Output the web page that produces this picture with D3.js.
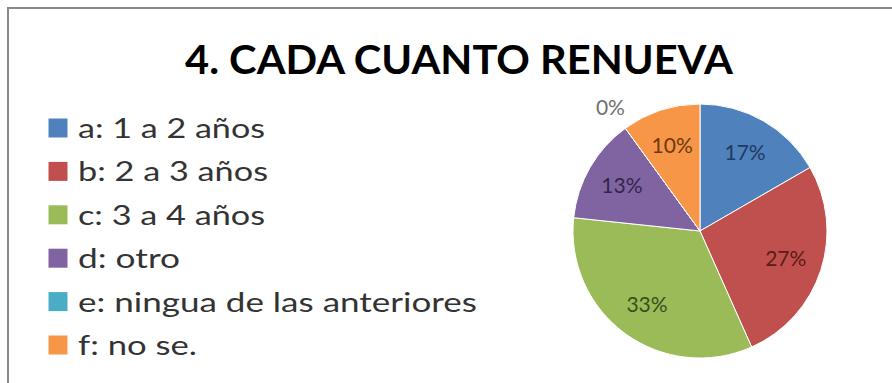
<!DOCTYPE html>
<html>
<head>
<meta charset="utf-8">
<script src="https://cdn.jsdelivr.net/npm/d3@7"></script>
<style>
  html, body { margin: 0; padding: 0; background: #fff; }
  svg { display: block; }
</style>
</head>
<body>
<svg id="chart" width="892" height="383"></svg>
<script>
// Survey answers: "4. CADA CUANTO RENUEVA"
const title = "4. CADA CUANTO RENUEVA";
const categories = ["a: 1 a 2 años", "b: 2 a 3 años", "c: 3 a 4 años", "d: otro", "e: ningua de las anteriores", "f: no se."];
const counts = [5, 8, 10, 4, 0, 3];
const fillColors = ["#4F81BD", "#C0504D", "#9BBB59", "#8064A2", "#4BACC6", "#F79646"];
const labelColors = ["#1F3A60", "#5E1A18", "#34501C", "#33264A", "#707070", "#6B3A10"];
const legendWidths = [187, 190, 187, 102, 399, 119];

const svg = d3.select("#chart");
const W = 892, H = 383;

// outer frame (only top/left edges are visible inside the picture)
svg.append("rect").attr("x", 0).attr("y", 0).attr("width", W).attr("height", H).attr("fill", "#fff");
svg.append("path")
  .attr("d", `M8,${H} L8,8 L${W},8`)
  .attr("fill", "none").attr("stroke", "#8a8a8a").attr("stroke-width", 2);

// title
svg.append("text")
  .attr("x", 185).attr("y", 74)
  .attr("font-family", "Lato, 'Open Sans', sans-serif")
  .attr("font-weight", "bold").attr("font-size", 40)
  .attr("fill", "#000")
  .attr("textLength", 548).attr("lengthAdjust", "spacingAndGlyphs")
  .text(title);

// legend
const legend = svg.append("g");
const rowY = d3.scaleLinear().domain([0, categories.length - 1]).range([128, 345]);
categories.forEach((c, i) => {
  const cy = rowY(i);
  legend.append("rect")
    .attr("x", 48.5).attr("y", cy - 9.5).attr("width", 19).attr("height", 19)
    .attr("fill", fillColors[i]);
  legend.append("text")
    .attr("x", 78).attr("y", cy + 10)
    .attr("font-family", "Lato, 'Open Sans', sans-serif")
    .attr("font-size", 27).attr("fill", "#333")
    .attr("textLength", legendWidths[i]).attr("lengthAdjust", "spacingAndGlyphs")
    .text(c);
});

// pie
const cx = 700, cy = 231, R = 127;
const total = d3.sum(counts);
const pie = d3.pie().sort(null).value(d => d)(counts);
const arc = d3.arc().innerRadius(0).outerRadius(R);
const labelArc = d3.arc().innerRadius(R * 0.71).outerRadius(R * 0.71);
const outerArc = d3.arc().innerRadius(R * 1.2).outerRadius(R * 1.2);

const g = svg.append("g").attr("transform", `translate(${cx},${cy})`);
g.selectAll("path.slice").data(pie).join("path")
  .attr("class", "slice")
  .attr("d", arc)
  .attr("fill", (d, i) => fillColors[i])
  .attr("stroke", "#fff").attr("stroke-width", 1);

g.selectAll("text.pct").data(pie).join("text")
  .attr("class", "pct")
  .attr("transform", d => {
    const p = (d.endAngle - d.startAngle) > 0 ? labelArc.centroid(d) : outerArc.centroid(d);
    return `translate(${p[0]},${p[1]})`;
  })
  .attr("text-anchor", "middle").attr("dy", "0.36em")
  .attr("font-family", "Lato, 'Open Sans', sans-serif")
  .attr("font-size", 21)
  .attr("fill", (d, i) => labelColors[i])
  .text(d => Math.round(d.data / total * 100) + "%");
</script>
</body>
</html>
